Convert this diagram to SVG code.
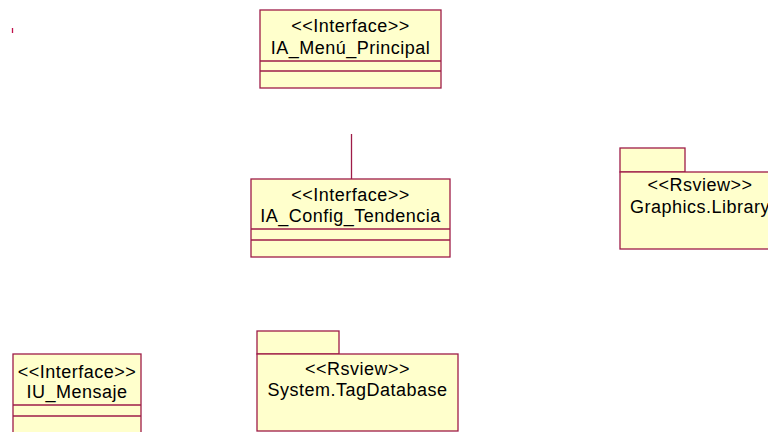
<svg xmlns="http://www.w3.org/2000/svg" width="768" height="432" viewBox="0 0 768 432">
<style>
.box{fill:#FFFFCC;stroke:#9E1C48;stroke-width:1.3}
.ln{stroke:#9E1C48;stroke-width:1.3;fill:none}
.t{font-family:"Liberation Sans",Arial,sans-serif;font-size:18px;letter-spacing:0.5px;fill:#000;text-anchor:middle}
</style>
<rect width="768" height="432" fill="#FFFFFF"/>
<line x1="12.5" y1="28" x2="12.5" y2="33" stroke="#C0104A" stroke-width="1.3"/>
<g id="connectors">
<line class="ln" x1="351.5" y1="134" x2="351.5" y2="179"/>
</g>
<g id="IA_Menu_Principal">
<rect class="box" x="260" y="10" width="181" height="78"/>
<line class="ln" x1="260" y1="61" x2="441" y2="61"/>
<line class="ln" x1="260" y1="71" x2="441" y2="71"/>
<text class="t" x="350.5" y="32">&lt;&lt;Interface&gt;&gt;</text>
<text class="t" x="350.5" y="54">IA_Menú_Principal</text>
</g>
<g id="IA_Config_Tendencia">
<rect class="box" x="251" y="179" width="199" height="78"/>
<line class="ln" x1="251" y1="229" x2="450" y2="229"/>
<line class="ln" x1="251" y1="240" x2="450" y2="240"/>
<text class="t" x="350.5" y="201">&lt;&lt;Interface&gt;&gt;</text>
<text class="t" x="350.5" y="222">IA_Config_Tendencia</text>
</g>
<g id="Graphics_Library">
<rect class="box" x="620" y="148" width="65" height="24"/>
<rect class="box" x="620" y="172" width="160" height="77"/>
<text class="t" x="700" y="191">&lt;&lt;Rsview&gt;&gt;</text>
<text class="t" x="700" y="213">Graphics.Library</text>
</g>
<g id="IU_Mensaje">
<rect class="box" x="13" y="354" width="128" height="90"/>
<line class="ln" x1="13" y1="405" x2="141" y2="405"/>
<line class="ln" x1="13" y1="416" x2="141" y2="416"/>
<text class="t" x="77" y="378">&lt;&lt;Interface&gt;&gt;</text>
<text class="t" x="77" y="398">IU_Mensaje</text>
</g>
<g id="System_TagDatabase">
<rect class="box" x="257" y="331" width="82" height="23"/>
<rect class="box" x="257" y="354" width="201" height="77"/>
<text class="t" x="357.5" y="375">&lt;&lt;Rsview&gt;&gt;</text>
<text class="t" x="357.5" y="396">System.TagDatabase</text>
</g>
</svg>
